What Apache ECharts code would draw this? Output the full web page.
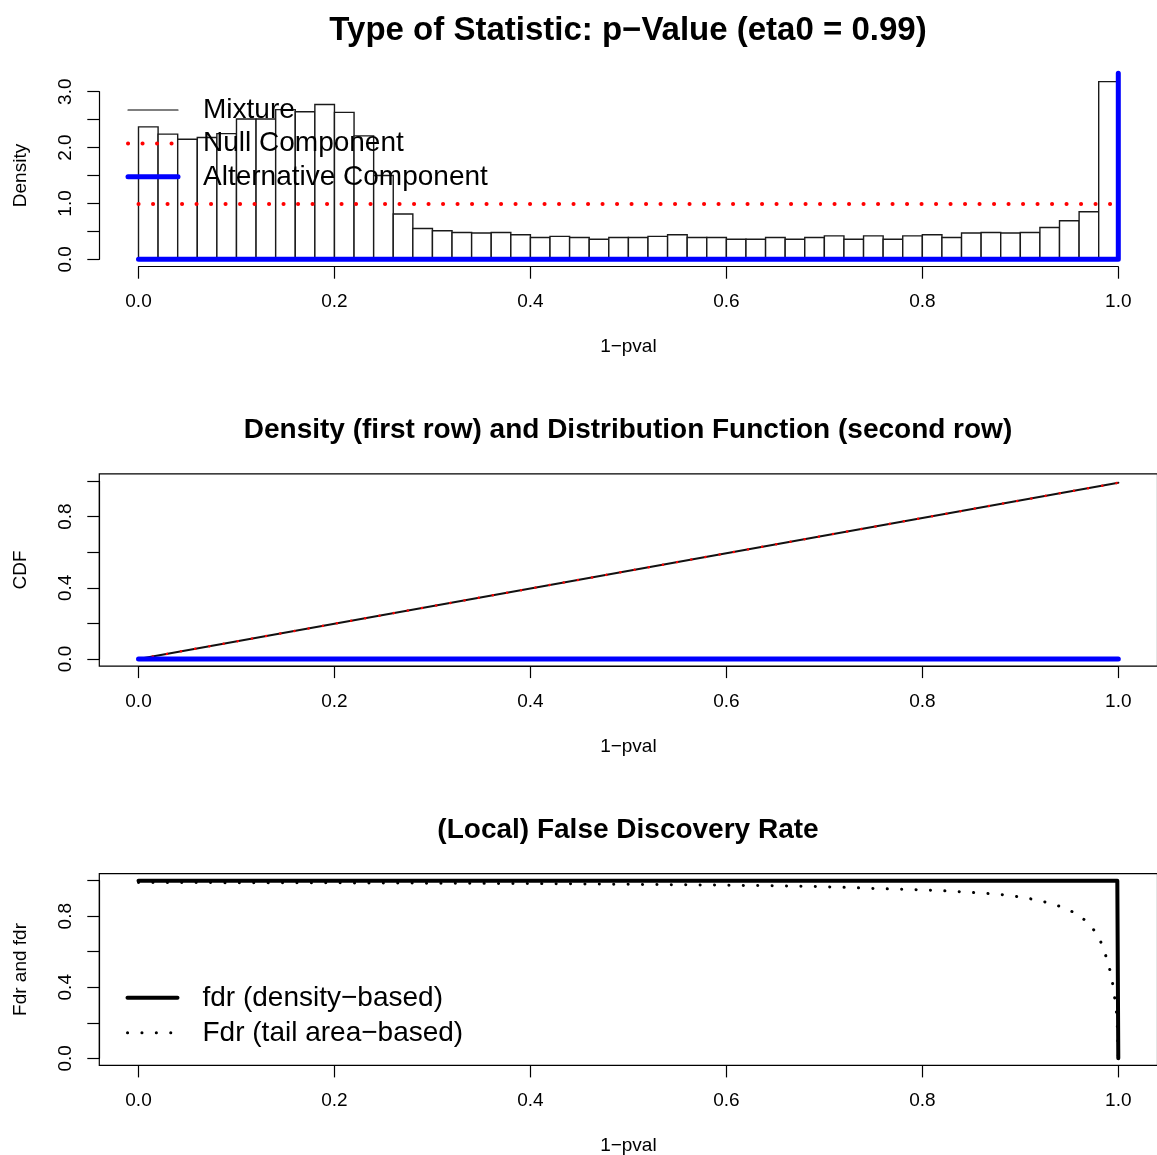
<!DOCTYPE html>
<html>
<head>
<meta charset="utf-8">
<script src="https://cdn.jsdelivr.net/npm/echarts@6/dist/echarts.min.js"></script>
<style>
  html, body { margin: 0; background: #fff; }
  #chart { width: 1157px; height: 1155px; }
</style>
</head>
<body>
<div id="chart"></div>
<script>
// histogram of 1-pval (density scale)
const histBreaks = [0, 0.02, 0.04, 0.06, 0.08, 0.1, 0.12, 0.14, 0.16, 0.18, 0.2,
  0.22, 0.24, 0.26, 0.28, 0.3, 0.32, 0.34, 0.36, 0.38, 0.4,
  0.42, 0.44, 0.46, 0.48, 0.5, 0.52, 0.54, 0.56, 0.58, 0.6,
  0.62, 0.64, 0.66, 0.68, 0.7, 0.72, 0.74, 0.76, 0.78, 0.8,
  0.82, 0.84, 0.86, 0.88, 0.9, 0.92, 0.94, 0.96, 0.98, 1.0];
const histDensity = [2.37, 2.24, 2.15, 2.18, 2.25, 2.51, 2.51, 2.68, 2.64, 2.77,
  2.63, 2.21, 1.50, 0.81, 0.55, 0.51, 0.48, 0.47, 0.48, 0.44,
  0.39, 0.41, 0.39, 0.36, 0.39, 0.39, 0.41, 0.44, 0.39, 0.39,
  0.36, 0.36, 0.39, 0.36, 0.39, 0.42, 0.36, 0.42, 0.36, 0.42,
  0.44, 0.39, 0.47, 0.48, 0.47, 0.48, 0.57, 0.69, 0.85, 3.18];
const nullDensity = [[0, 0.99], [1, 0.99]];
const altDensity = [[0, 0], [1, 0], [1, 3.33]];

// distribution functions
const mixtureCdf = [[0, 0], [1, 0.99]];
const nullCdf = [[0, 0], [1, 0.99]];
const altCdf = [[0, 0], [1, 0]];

// false discovery rates
const fdrLocal = [[0, 1], [0.999, 1], [1, 0]];
const fdrTail = [[0, 0.99], [0.1, 0.989], [0.2, 0.988], [0.3, 0.986], [0.4, 0.984],
  [0.5, 0.98], [0.6, 0.975], [0.65, 0.971], [0.7, 0.966], [0.729, 0.961],
  [0.758, 0.955], [0.787, 0.951], [0.816, 0.945], [0.845, 0.936], [0.86, 0.93],
  [0.875, 0.925], [0.889, 0.917], [0.904, 0.905], [0.918, 0.89], [0.932, 0.871],
  [0.946, 0.845], [0.959, 0.809], [0.97, 0.759], [0.979, 0.694], [0.985, 0.619],
  [0.989, 0.544], [0.993, 0.466], [0.995, 0.39], [0.997, 0.312], [0.9987, 0.231],
  [1, 0]];

const xTickLabels = ['0.0', '0.2', '0.4', '0.6', '0.8', '1.0'];
const densityTickLabels = ['0.0', '1.0', '2.0', '3.0'];
const unitTickLabels = ['0.0', '0.4', '0.8'];

const FONT = '"Liberation Sans", Arial, sans-serif';
const dots = (w, gap) => ({ width: w, type: [0.1, gap], cap: 'round' });

// line looks shared by the plot and its legend entry
const styles = {
  mixture: { color: '#000', width: 1.2, cap: 'round' },
  nullDens: Object.assign({ color: '#f00' }, dots(4, 14.4)),
  altDens: { color: '#00f', width: 5, cap: 'round', join: 'round' },
  fdrSolid: { color: '#000', width: 4, cap: 'round', join: 'round' },
  fdrDots: Object.assign({ color: '#000' }, dots(3, 14.3))
};

function xAxisFor(grid, offset) {
  return {
    type: 'value', gridIndex: grid, min: 0, max: 1, interval: 0.2, offset: offset,
    name: '1\u2212pval', nameLocation: 'middle', nameGap: 71,
    nameTextStyle: { color: '#000', fontSize: 19, fontFamily: FONT },
    axisLine: { show: true, onZero: false, lineStyle: { color: '#000', width: 1.2 } },
    axisTick: { show: true, length: 12, lineStyle: { color: '#000', width: 1.2 } },
    splitLine: { show: false },
    axisLabel: {
      color: '#000', fontSize: 19, fontFamily: FONT, margin: 26,
      formatter: (v) => (xTickLabels.includes(v.toFixed(1)) ? v.toFixed(1) : '')
    }
  };
}

function yAxisFor(grid, max, step, labels, name) {
  return {
    type: 'value', gridIndex: grid, min: 0, max: max, interval: step, offset: 39.2,
    name: name, nameLocation: 'middle', nameRotate: 90, nameGap: 69,
    nameTextStyle: { color: '#000', fontSize: 19, fontFamily: FONT },
    axisLine: { show: true, onZero: false, lineStyle: { color: '#000', width: 1.2 } },
    axisTick: { show: true, length: 12, lineStyle: { color: '#000', width: 1.2 } },
    splitLine: { show: false },
    axisLabel: {
      color: '#000', fontSize: 19, fontFamily: FONT, margin: 24, rotate: 90,
      formatter: (v) => (labels.includes(v.toFixed(1)) ? v.toFixed(1) : '')
    }
  };
}

const hiddenAxis = (grid) => ({ type: 'value', gridIndex: grid, show: false, min: 0, max: 1 });

const legendBase = {
  orient: 'vertical', left: 125.5, padding: 0, itemGap: 0,
  itemWidth: 50, itemHeight: 14, selectedMode: false,
  itemStyle: { opacity: 0 },
  lineStyle: { cap: 'round' }
};

const plotLeft = 138.5, plotWidth = 979.8;
const boxLeft = 99.3, boxWidth = 1058.2;

const chart = echarts.init(document.getElementById('chart'));

chart.setOption({
  animation: false,
  backgroundColor: '#fff',
  textStyle: { fontFamily: FONT },
  title: [
    { text: 'Type of Statistic: p\u2212Value (eta0 = 0.99)', left: 628, top: 14, padding: 0,
      textAlign: 'center', textStyle: { fontSize: 33, fontWeight: 'bold', color: '#000', fontFamily: FONT } },
    { text: 'Density (first row) and Distribution Function (second row)', left: 628, top: 416, padding: 0,
      textAlign: 'center', textStyle: { fontSize: 28, fontWeight: 'bold', color: '#000', fontFamily: FONT } },
    { text: '(Local) False Discovery Rate', left: 628, top: 816, padding: 0,
      textAlign: 'center', textStyle: { fontSize: 28, fontWeight: 'bold', color: '#000', fontFamily: FONT } }
  ],
  legend: [
    Object.assign({}, legendBase, {
      data: [
        { name: 'Mixture', lineStyle: styles.mixture },
        { name: 'Null Component', lineStyle: styles.nullDens },
        { name: 'Alternative Component', lineStyle: styles.altDens }
      ],
      top: 93.3,
      textStyle: { fontSize: 28, lineHeight: 33.4, color: '#000', fontFamily: FONT, padding: [0, 0, 0, 20] }
    }),
    Object.assign({}, legendBase, {
      data: [
        { name: 'fdr (density\u2212based)', lineStyle: styles.fdrSolid },
        { name: 'Fdr (tail area\u2212based)', lineStyle: styles.fdrDots }
      ],
      top: 980.3,
      textStyle: { fontSize: 28, lineHeight: 35, color: '#000', fontFamily: FONT, padding: [0, 0, 0, 20] }
    })
  ],
  grid: [
    { left: plotLeft, width: plotWidth, top: 91.7, height: 167.6, outerBoundsMode: 'none' },
    { left: boxLeft, width: boxWidth, top: 473.9, height: 192.2, show: true,
      borderColor: '#000', borderWidth: 1.2, backgroundColor: 'transparent', outerBoundsMode: 'none' },
    { left: plotLeft, width: plotWidth, top: 481, height: 178, outerBoundsMode: 'none' },
    { left: boxLeft, width: boxWidth, top: 873.6, height: 191.8, show: true,
      borderColor: '#000', borderWidth: 1.2, backgroundColor: 'transparent', outerBoundsMode: 'none' },
    { left: plotLeft, width: plotWidth, top: 880.7, height: 177.6, outerBoundsMode: 'none' }
  ],
  xAxis: [xAxisFor(0, 7.4), hiddenAxis(1), xAxisFor(2, 7.1), hiddenAxis(3), xAxisFor(4, 7.1)],
  yAxis: [
    yAxisFor(0, 3, 0.5, densityTickLabels, 'Density'),
    hiddenAxis(1),
    yAxisFor(2, 1, 0.2, unitTickLabels, 'CDF'),
    hiddenAxis(3),
    yAxisFor(4, 1, 0.2, unitTickLabels, 'Fdr and fdr')
  ],
  series: [
    {
      type: 'custom', name: 'hist', xAxisIndex: 0, yAxisIndex: 0, silent: true,
      encode: { x: [0, 1], y: 2 },
      data: histDensity.map((d, i) => [histBreaks[i], histBreaks[i + 1], d]),
      renderItem: (params, api) => {
        const p0 = api.coord([api.value(0), api.value(2)]);
        const p1 = api.coord([api.value(1), 0]);
        return {
          type: 'rect',
          shape: { x: p0[0], y: p0[1], width: p1[0] - p0[0], height: p1[1] - p0[1] },
          style: { fill: '#fff', stroke: '#1a1a1a', lineWidth: 1.4 }
        };
      }
    },
    { type: 'line', name: 'Mixture', xAxisIndex: 0, yAxisIndex: 0, data: [], symbol: 'none',
      itemStyle: { color: '#000' }, lineStyle: styles.mixture },
    { type: 'line', name: 'Null Component', xAxisIndex: 0, yAxisIndex: 0, data: nullDensity,
      symbol: 'none', clip: false, itemStyle: { color: '#f00' }, lineStyle: styles.nullDens },
    { type: 'line', name: 'Alternative Component', xAxisIndex: 0, yAxisIndex: 0, data: altDensity,
      symbol: 'none', clip: false, itemStyle: { color: '#00f' }, lineStyle: styles.altDens },

    { type: 'line', name: 'cdf mixture', xAxisIndex: 2, yAxisIndex: 2, data: mixtureCdf,
      symbol: 'none', clip: false, lineStyle: { color: '#111', width: 2.2, cap: 'round' } },
    { type: 'line', name: 'cdf null', xAxisIndex: 2, yAxisIndex: 2, data: nullCdf,
      symbol: 'none', clip: false, lineStyle: Object.assign({ color: '#f00' }, dots(2.5, 14.3)) },
    { type: 'line', name: 'cdf alternative', xAxisIndex: 2, yAxisIndex: 2, data: altCdf,
      symbol: 'none', clip: false, lineStyle: { color: '#00f', width: 5, cap: 'round' } },

    { type: 'line', name: 'Fdr (tail area\u2212based)', xAxisIndex: 4, yAxisIndex: 4, data: fdrTail,
      symbol: 'none', clip: false, itemStyle: { color: '#000' }, lineStyle: styles.fdrDots },
    { type: 'line', name: 'fdr (density\u2212based)', xAxisIndex: 4, yAxisIndex: 4, data: fdrLocal,
      symbol: 'none', clip: false, itemStyle: { color: '#000' }, lineStyle: styles.fdrSolid }
  ]
});
</script>
</body>
</html>
